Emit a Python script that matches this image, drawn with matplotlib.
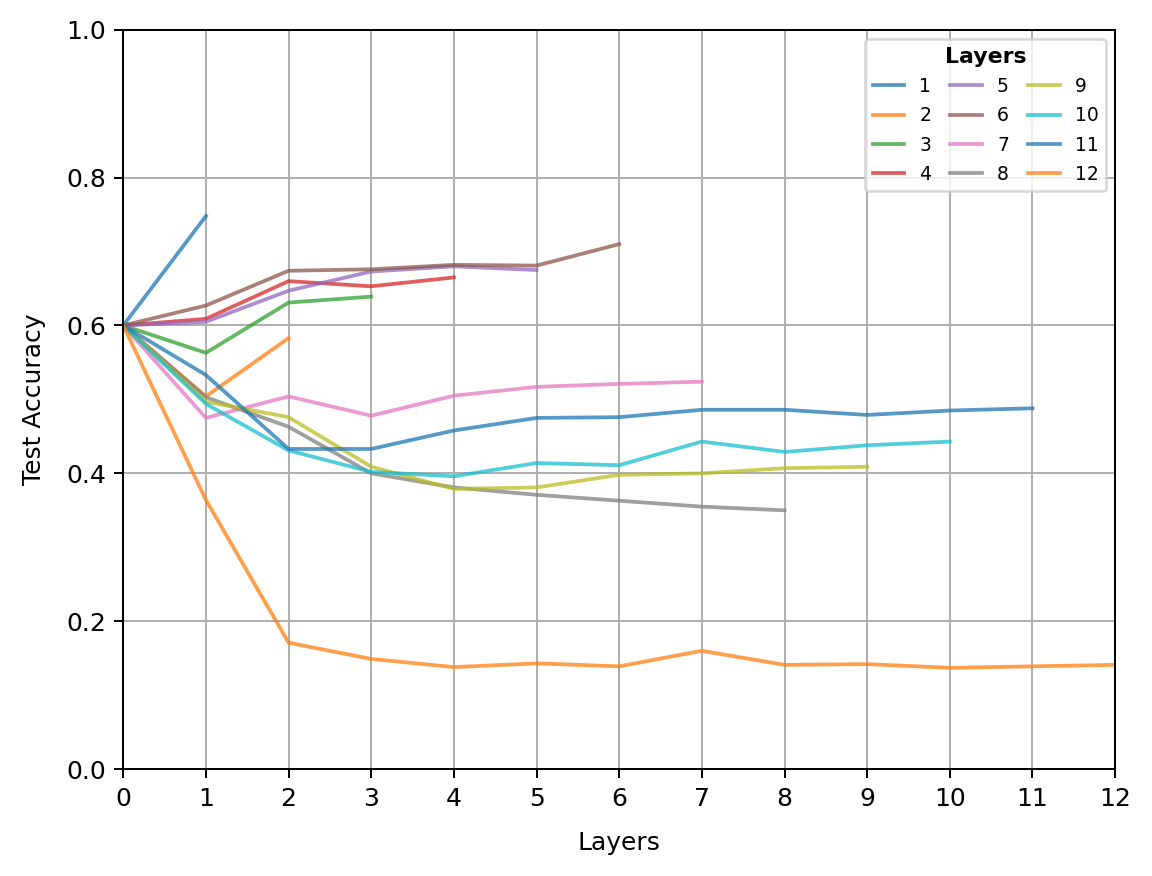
import matplotlib
matplotlib.use('Agg')
import matplotlib.pyplot as plt

# test accuracy per model depth (model with k layers -> k+1 points)
acc_1 = [0.600, 0.748]
acc_2 = [0.600, 0.504, 0.583]
acc_3 = [0.600, 0.563, 0.631, 0.639]
acc_4 = [0.600, 0.609, 0.660, 0.653, 0.665]
acc_5 = [0.600, 0.605, 0.647, 0.673, 0.680, 0.675]
acc_6 = [0.600, 0.627, 0.674, 0.676, 0.682, 0.681, 0.710]
acc_7 = [0.600, 0.475, 0.504, 0.478, 0.505, 0.517, 0.521, 0.524]
acc_8 = [0.600, 0.503, 0.463, 0.400, 0.381, 0.371, 0.363, 0.355, 0.350]
acc_9 = [0.600, 0.497, 0.476, 0.409, 0.379, 0.381, 0.398, 0.400, 0.407, 0.409]
acc_10 = [0.600, 0.494, 0.431, 0.402, 0.396, 0.414, 0.411, 0.443, 0.429, 0.438, 0.443]
acc_11 = [0.600, 0.533, 0.433, 0.433, 0.458, 0.475, 0.476, 0.486, 0.486, 0.479, 0.485, 0.488]
acc_12 = [0.600, 0.364, 0.171, 0.149, 0.138, 0.143, 0.139, 0.160, 0.141, 0.142, 0.137, 0.139, 0.141]

results = [acc_1, acc_2, acc_3, acc_4, acc_5, acc_6,
           acc_7, acc_8, acc_9, acc_10, acc_11, acc_12]
labels = [str(i) for i in range(1, 13)]

fig = plt.figure(figsize=(6.4, 4.867), dpi=180)
ax = fig.add_axes([0.107, 0.122, 0.861, 0.844])

for lab, acc in zip(labels, results):
    ax.plot(range(len(acc)), acc, alpha=0.75, label=lab)

ax.set_xlim(0, 12)
ax.set_ylim(0, 1.0)
ax.set_xticks(range(0, 13))
ax.set_xlabel('Layers', labelpad=8)
ax.set_ylabel('Test Accuracy', labelpad=8)
ax.grid(True)
ax.legend(title='Layers', ncol=3, loc='upper right', fontsize=7.5,
          handlelength=1.7, columnspacing=1.0, labelspacing=0.55,
          title_fontproperties={'weight': 'bold', 'size': 8.8})

plt.savefig('out.png', dpi=180)
